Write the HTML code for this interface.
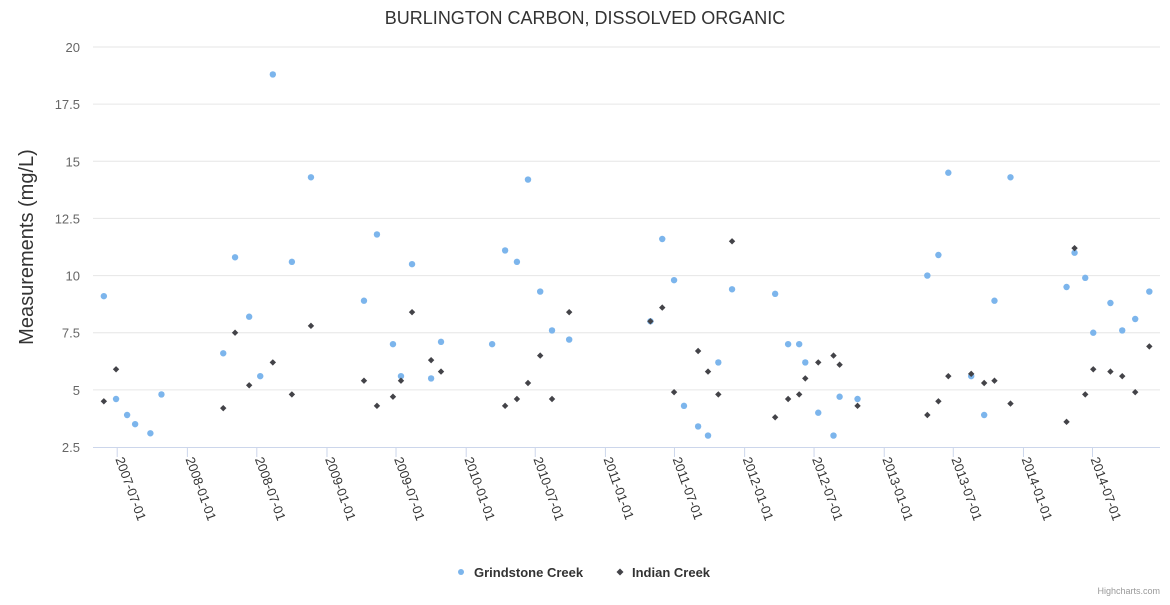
<!DOCTYPE html>
<html><head><meta charset="utf-8"><style>
body{margin:0;background:#fff;font-family:"Liberation Sans",sans-serif;}
</style></head><body>
<svg id="chart" width="1170" height="600" xmlns="http://www.w3.org/2000/svg" font-family="Liberation Sans, sans-serif">
<rect width="1170" height="600" fill="#fff"/>
<text x="585" y="24" text-anchor="middle" font-size="18" fill="#333">BURLINGTON CARBON, DISSOLVED ORGANIC</text>
<text transform="translate(33,247) rotate(-90)" text-anchor="middle" font-size="20" fill="#333">Measurements (mg/L)</text>
<g id="grid"></g><g id="xaxis"></g><g id="marks"></g>
<g>
<g><circle cx="461" cy="572" r="3" fill="#7cb5ec"/><text x="474" y="577" font-size="13" font-weight="bold" fill="#333">Grindstone Creek</text></g>
<g><path d="M620,568.5 L623.5,572 L620,575.5 L616.5,572Z" fill="#434348"/><text x="632" y="577" font-size="13" font-weight="bold" fill="#333">Indian Creek</text></g>
</g>
<text x="1160" y="594" text-anchor="end" font-size="9" fill="#999">Highcharts.com</text>
</svg>
<script>
// days offset from 2007-07-01
const gDays=[-35,-3,26,47,87,116,278,309,346,375,408,458,508,647,681,723,744,773,823,849,983,1017,1048,1077,1109,1140,1185,1398,1429,1460,1486,1523,1549,1576,1612,1725,1759,1788,1804,1838,1878,1894,1941,2124,2153,2179,2239,2273,2300,2342,2489,2510,2538,2559,2604,2635,2669,2706];
const gVals=[9.1,4.6,3.9,3.5,3.1,4.8,6.6,10.8,8.2,5.6,18.8,10.6,14.3,8.9,11.8,7.0,5.6,10.5,5.5,7.1,7.0,11.1,10.6,14.2,9.3,7.6,7.2,8.0,11.6,9.8,4.3,3.4,3.0,6.2,9.4,9.2,7.0,7.0,6.2,4.0,3.0,4.7,4.6,10.0,10.9,14.5,5.6,3.9,8.9,14.3,9.5,11.0,9.9,7.5,8.8,7.6,8.1,9.3];
const iDays=[-35,-3,278,309,346,408,458,508,647,681,723,744,773,823,849,1017,1048,1077,1109,1140,1185,1398,1429,1460,1523,1549,1576,1612,1725,1759,1788,1804,1838,1878,1894,1941,2124,2153,2179,2239,2273,2300,2342,2489,2510,2538,2559,2604,2635,2669,2706];
const iVals=[4.5,5.9,4.2,7.5,5.2,6.2,4.8,7.8,5.4,4.3,4.7,5.4,8.4,6.3,5.8,4.3,4.6,5.3,6.5,4.6,8.4,8.0,8.6,4.9,6.7,5.8,4.8,11.5,3.8,4.6,4.8,5.5,6.2,6.5,6.1,4.3,3.9,4.5,5.6,5.7,5.3,5.4,4.4,3.6,11.2,4.8,5.9,5.8,5.6,4.9,6.9];
const yTicks=[2.5,5,7.5,10,12.5,15,17.5,20];
const xTickDays=[0,184,366,550,731,915,1096,1280,1461,1645,1827,2011,2192,2376,2557];
const xTickLabels=["2007-07-01","2008-01-01","2008-07-01","2009-01-01","2009-07-01","2010-01-01","2010-07-01","2011-01-01","2011-07-01","2012-01-01","2012-07-01","2013-01-01","2013-07-01","2014-01-01","2014-07-01"];
const NS="http://www.w3.org/2000/svg";
const X=d=>117.2+d*0.38142;
const Y=v=>447-(v-2.5)*(400/17.5);
function mk(t,a,p){const e=document.createElementNS(NS,t);for(const k in a)e.setAttribute(k,a[k]);p.appendChild(e);return e;}
const grid=document.getElementById('grid'),xa=document.getElementById('xaxis'),marks=document.getElementById('marks');
yTicks.forEach(v=>{
  if(v>2.5){const l=mk('line',{x1:93,x2:1160,y1:Y(v),y2:Y(v),stroke:'#e6e6e6'},grid);
  
  }
  const t=mk('text',{x:80,y:Y(v)+5,'text-anchor':'end','font-size':13,fill:'#666'},grid);
  t.textContent=v;
  
  
});
const ax=mk('line',{x1:93,x2:1160,y1:447.5,y2:447.5,stroke:'#ccd6eb'},xa);


xTickDays.forEach((d,i)=>{
  const x=X(d);
  mk('line',{x1:x,x2:x,y1:447,y2:457,stroke:'#ccd6eb'},xa);
  const t=mk('text',{transform:`translate(${x-2},${459}) rotate(70)`,'font-size':13,fill:'#333'},xa);
  t.textContent=xTickLabels[i];
  
  
});
gDays.forEach((d,i)=>{
  const c=mk('circle',{cx:X(d),cy:Y(gVals[i]),r:3.2,fill:'#7cb5ec'},marks);
  
  
});
iDays.forEach((d,i)=>{
  const x=X(d),y=Y(iVals[i]);
  const p=mk('path',{d:`M${x},${y-3.2}L${x+3.2},${y}L${x},${y+3.2}L${x-3.2},${y}Z`,fill:'#434348'},marks);
  
  
});
</script>
</body></html>
